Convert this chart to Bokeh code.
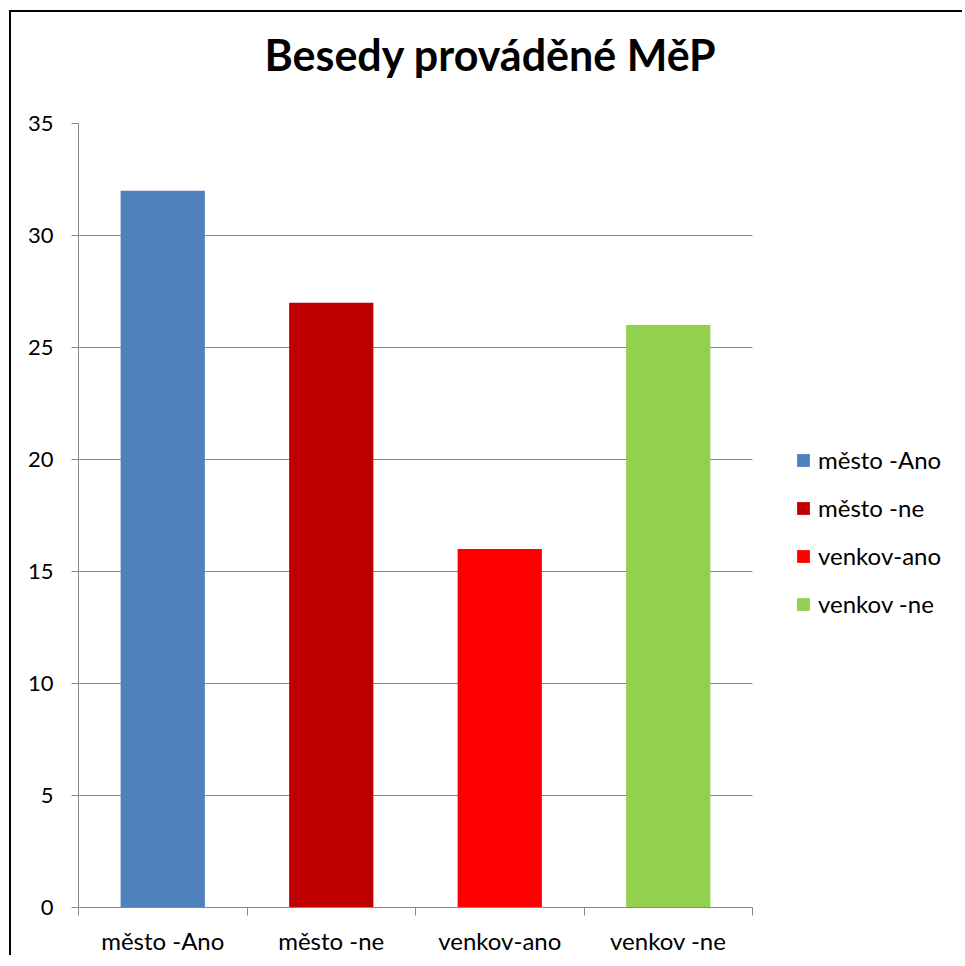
from bokeh.plotting import figure
from bokeh.models import FixedTicker, Legend, LegendItem, ColumnDataSource, Range1d, Title
from bokeh.embed import file_html
from bokeh.resources import INLINE

categories = ["město -Ano", "město -ne", "venkov-ano", "venkov -ne"]
values = [32, 27, 16, 26]
colors = ["#4F81BD", "#C00000", "#FF0000", "#92D050"]
y_ticks = [0, 5, 10, 15, 20, 25, 30, 35]
title_text = "Besedy prováděné MěP"

FONT = "Lato"
GRAY = "#888888"

# layout (pixels)
W, H = 953, 945
LEFT, TOP, BOTTOM = 67, 111, 50
PLOT_W = 674            # width of the category area
FRAME_W = W - LEFT      # frame extends to the right edge (legend lives there)

n = len(categories)
xs = [i + 0.5 for i in range(n)]
src = ColumnDataSource(dict(x=xs, value=values, color=colors, cat=categories))

p = figure(width=W, height=H, x_range=Range1d(0, n * FRAME_W / PLOT_W),
           y_range=Range1d(0, 35), output_backend="svg", toolbar_location=None,
           min_border_left=LEFT, min_border_top=TOP, min_border_right=0,
           min_border_bottom=BOTTOM, title=title_text)
p.styles = {"border-left": "2px solid black", "border-top": "2px solid black",
            "margin-left": "9px", "margin-top": "10px"}

r = p.vbar(x="x", top="value", width=0.5, fill_color="color", line_color=None, source=src)

p.outline_line_color = None
p.background_fill_color = "white"
p.border_fill_color = "white"

# spacer between the frame and the title
p.add_layout(Title(text=" ", text_font_size="1px", standoff=36), "above")

# title
p.title.text_font = FONT
p.title.text_font_size = "43px"
p.title.text_font_style = "bold"
p.title.text_color = "black"
p.title.align = "left"
p.title.offset = 186
p.title.standoff = 10

# x axis
p.xaxis.ticker = FixedTicker(ticks=xs, minor_ticks=list(range(n + 1)))
p.xaxis.major_label_overrides = {x: c for x, c in zip(xs, categories)}
p.xaxis.bounds = (0, n)
p.xaxis.major_tick_out = 0
p.xaxis.major_tick_in = 0
p.xaxis.minor_tick_out = 8
p.xaxis.minor_tick_in = 0
p.xaxis.minor_tick_line_color = GRAY
p.xaxis.axis_line_color = GRAY
p.xaxis.major_label_text_font = FONT
p.xaxis.major_label_text_font_size = "24px"
p.xaxis.major_label_text_color = "black"
p.xaxis.major_label_standoff = 10

# y axis
p.yaxis.ticker = FixedTicker(ticks=y_ticks)
p.yaxis.major_tick_out = 7
p.yaxis.major_tick_in = 0
p.yaxis.minor_tick_out = 0
p.yaxis.minor_tick_in = 0
p.yaxis.major_tick_line_color = GRAY
p.yaxis.axis_line_color = GRAY
p.yaxis.major_label_text_font = FONT
p.yaxis.major_label_text_font_size = "22px"
p.yaxis.major_label_text_color = "black"
p.yaxis.major_label_standoff = 18

p.xgrid.visible = False
p.ygrid.ticker = FixedTicker(ticks=y_ticks)
p.ygrid.cross_bounds = (0, n)
p.ygrid.grid_line_color = GRAY

items = [LegendItem(label=c, renderers=[r], index=i) for i, c in enumerate(categories)]
legend = Legend(items=items, location=(717, 289), padding=0, margin=0,
                glyph_width=16, glyph_height=16, label_standoff=7,
                spacing=19, border_line_color=None, background_fill_alpha=0,
                label_text_font=FONT, label_text_font_size="24px",
                label_text_color="black")
p.add_layout(legend, "center")

open("out.html", "w").write(file_html(p, INLINE))
